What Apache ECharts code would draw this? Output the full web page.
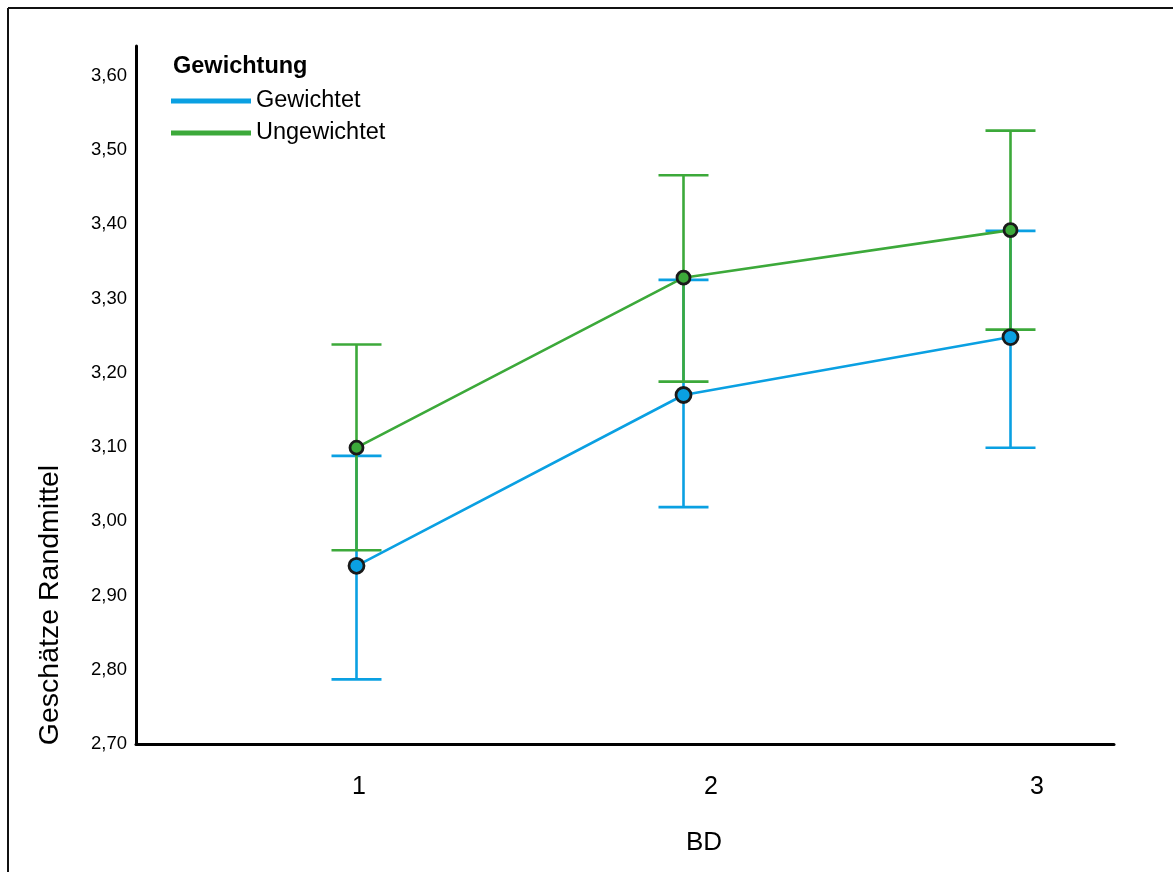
<!DOCTYPE html>
<html>
<head>
<meta charset="utf-8">
<script src="https://cdn.jsdelivr.net/npm/echarts@6/dist/echarts.min.js"></script>
<style>
html,body{margin:0;padding:0;background:#fff;}
#chart{width:1173px;height:872px;}
</style>
</head>
<body>
<div id="chart"></div>
<script>
// ---- data ----
const categories = [1, 2, 3];
const tickLabels = ['1', '2', '3'];
const yTicks = [2.7, 2.8, 2.9, 3.0, 3.1, 3.2, 3.3, 3.4, 3.5, 3.6];
const seriesNames = ['Gewichtet', 'Ungewichtet'];
const gewMean = [2.940, 3.170, 3.248];
const gewLow  = [2.787, 3.019, 3.099];
const gewHigh = [3.088, 3.325, 3.391];
const ungMean = [3.099, 3.328, 3.392];
const ungLow  = [2.961, 3.188, 3.258];
const ungHigh = [3.238, 3.466, 3.526];

const FONT = "'Liberation Sans', Arial, sans-serif";
const BLUE = '#0aa0e2';
const GREEN = '#3ca93a';

function errRender(color) {
  return function (params, api) {
    const x = api.value(0), lo = api.value(1), hi = api.value(2);
    const pLo = api.coord([x, lo]);
    const pHi = api.coord([x, hi]);
    const hw = 25;
    const st = { stroke: color, lineWidth: 2.6, fill: null };
    return {
      type: 'group',
      children: [
        { type: 'line', shape: { x1: pLo[0], y1: pLo[1], x2: pHi[0], y2: pHi[1] }, style: st },
        { type: 'line', shape: { x1: pHi[0] - hw, y1: pHi[1], x2: pHi[0] + hw, y2: pHi[1] }, style: st },
        { type: 'line', shape: { x1: pLo[0] - hw, y1: pLo[1], x2: pLo[0] + hw, y2: pLo[1] }, style: st }
      ]
    };
  };
}

const chart = echarts.init(document.getElementById('chart'), null, { renderer: 'canvas' });
const labelPad = [5, 55, 53];
const option = {
  animation: false,
  backgroundColor: '#fff',
  textStyle: { fontFamily: FONT },
  title: {
    text: 'Gewichtung', left: 168, top: 50,
    textStyle: { fontSize: 23.5, fontWeight: 'bold', color: '#000', fontFamily: FONT }
  },
  legend: {
    data: seriesNames, orient: 'vertical', left: 171, top: 89, padding: 0,
    icon: 'rect', itemWidth: 80, itemHeight: 5, itemGap: 8,
    itemStyle: { borderWidth: 0 },
    textStyle: { fontSize: 23.5, color: '#000', fontFamily: FONT }
  },
  grid: { left: 136, right: 59, top: 46, bottom: 128, containLabel: false },
  xAxis: {
    type: 'value', min: 0.3257, max: 3.3165,
    axisLine: { show: true, lineStyle: { color: '#000', width: 3 } },
    axisTick: { show: false },
    splitLine: { show: false },
    axisLabel: {
      customValues: categories,
      margin: 31,
      color: '#000', fontSize: 25, fontFamily: FONT,
      formatter: function (v) {
        const i = categories.indexOf(Math.round(v));
        return '{p' + i + '|' + tickLabels[i] + '}';
      },
      rich: {
        p0: { padding: [0, 0, 0, labelPad[0]], fontSize: 25, color: '#000', fontFamily: FONT },
        p1: { padding: [0, 0, 0, labelPad[1]], fontSize: 25, color: '#000', fontFamily: FONT },
        p2: { padding: [0, 0, 0, labelPad[2]], fontSize: 25, color: '#000', fontFamily: FONT }
      }
    }
  },
  yAxis: {
    type: 'value', min: 2.7, max: 3.64,
    axisLine: { show: true, lineStyle: { color: '#000', width: 3 } },
    axisTick: { show: false },
    splitLine: { show: false },
    axisLabel: {
      customValues: yTicks,
      margin: 9, color: '#000', fontSize: 18.5, fontFamily: FONT,
      formatter: function (v) { return v.toFixed(2).replace('.', ','); }
    }
  },
  graphic: [
    { type: 'line', shape: { x1: 8, y1: 8, x2: 1173, y2: 8 }, style: { stroke: '#111', lineWidth: 2 }, silent: true },
    { type: 'line', shape: { x1: 8, y1: 8, x2: 8, y2: 872 }, style: { stroke: '#111', lineWidth: 2 }, silent: true },
    {
      type: 'text', x: 50, y: 605, rotation: Math.PI / 2,
      style: { text: 'Geschätze Randmittel', fontSize: 28.5, fontFamily: FONT, fill: '#000', align: 'center', verticalAlign: 'middle' }
    },
    {
      type: 'text', x: 704, y: 843,
      style: { text: 'BD', fontSize: 26, fontFamily: FONT, fill: '#000', align: 'center', verticalAlign: 'middle' }
    }
  ],
  series: [
    {
      type: 'custom', name: 'err-gew', renderItem: errRender(BLUE), z: 2,
      encode: { x: 0, y: [1, 2] },
      data: categories.map((c, i) => [c, gewLow[i], gewHigh[i]])
    },
    {
      type: 'custom', name: 'err-ung', renderItem: errRender(GREEN), z: 3,
      encode: { x: 0, y: [1, 2] },
      data: categories.map((c, i) => [c, ungLow[i], ungHigh[i]])
    },
    {
      type: 'line', name: seriesNames[0], z: 4,
      data: categories.map((c, i) => [c, gewMean[i]]),
      lineStyle: { color: BLUE, width: 2.6 },
      itemStyle: { color: BLUE, borderColor: '#1a1a1a', borderWidth: 2.8 },
      symbol: 'circle', symbolSize: 15, showAllSymbol: true
    },
    {
      type: 'line', name: seriesNames[1], z: 5,
      data: categories.map((c, i) => [c, ungMean[i]]),
      lineStyle: { color: GREEN, width: 2.6 },
      itemStyle: { color: GREEN, borderColor: '#1a1a1a', borderWidth: 2.8 },
      symbol: 'circle', symbolSize: 13, showAllSymbol: true
    }
  ]
};
chart.setOption(option);
</script>
</body>
</html>
